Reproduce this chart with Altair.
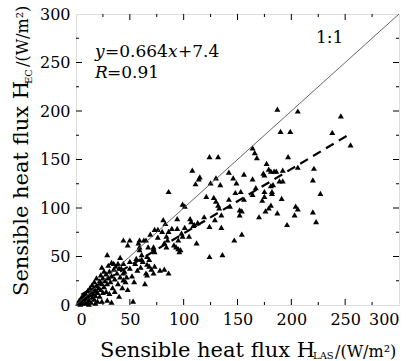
import altair as alt
import pandas as pd

F = "DejaVu Serif"

# ---- data ----
x_vals = [124,132,164,166,168,187,206,246,190,199,238,255,197,
          108,115,114,111,130,142,146,156,164,174,175,177,179,181,184,186,192,206,221,
          149,86,125,134,148,153,167,175,121,128,142,156,164,173,
          189,192,220,183,181,182,182,175,227,191,
          130,132,133,99,101,143,152,154,152,176,181,179,204,206,187,220,170,203,223,196,
          135,129,119,106,107,110,109,113,124,135,
          81,83,94,89,94,86,101,98,99,105,112,95,84,85,93,95,82,84,72,76,80,73,76,
          44,50,59,63,65,48,58,59,67,72,73,59,61,66,68,29,41,56,44,50,68,70,73,78,82,86,65,66,72,54,64,48,33,53,124,136,147,154,69,97,96,91,61,66,
          2,3,4,5,5,6,7,7,8,9,9,10,11,11,12,13,13,14,14,15,15,16,16,17,17,18,18,19,19,20,20,21,22,22,23,23,24,24,25,25,26,26,27,28,28,29,30,30,31,31,32,33,33,34,35,35,36,37,38,39,39,40,41,42,43,44,45,46,47,50,52,55,57,60,62,40,36,29,24,18,12,44]
y_vals = [153,153,162,157,152,202,200,195,179,179,178,165,153,
          139,132,130,125,131,137,131,135,130,136,134,146,140,138,138,138,139,142,141,
          126,117,126,124,116,117,121,117,112,111,109,109,114,108,
          128,128,129,124,123,117,115,112,115,110,
          107,103,100,104,102,102,98,97,93,97,103,100,102,99,95,96,91,93,86,83,
          93,88,91,89,86,83,82,85,81,80,
          88,84,89,79,79,76,80,74,71,71,64,67,71,67,60,58,64,60,60,70,76,78,78,
          67,67,67,67,67,62,64,60,60,58,55,57,52,50,47,52,49,48,43,45,40,37,40,36,37,33,33,31,33,24,22,16,3,4,50,52,67,73,73,57,55,62,47,42,
          2,5,1,4,8,2,6,10,3,12,7,2,9,15,5,11,18,3,14,8,21,12,17,6,24,15,10,20,28,13,4,18,25,9,31,16,22,39,13,28,35,19,25,32,14,22,41,28,12,35,24,44,30,18,37,43,27,40,33,22,43,38,29,38,18,33,35,24,29,38,30,43,36,39,45,9,14,5,4,2,1,26]

fit_x = [5, 255]
fit_y = [10.7, 176.7]
one_x = [0, 300]
one_y = [0, 300]
major_ticks = [50, 100, 150, 200, 250]
minor_ticks = [25, 75, 125, 175, 225, 275]
label_vals = [0, 50, 100, 150, 200, 250, 300]

W, H = 323, 291

pts = pd.DataFrame({"x": x_vals, "y": y_vals})
fit = pd.DataFrame({"x": fit_x, "y": fit_y})
one = pd.DataFrame({"x": one_x, "y": one_y})
dummy = pd.DataFrame({"a": [0]})

xs = alt.Scale(domain=[0, 300], nice=False, zero=False)
ys = alt.Scale(domain=[0, 300], nice=False, zero=False)

xaxis = alt.Axis(values=label_vals, tickSize=0, domain=False, grid=False, title=None,
                 labelFont=F, labelFontSize=16, labelColor="black", labelPadding=6, format="d")
yaxis = alt.Axis(values=label_vals, tickSize=0, domain=False, grid=False, title=None,
                 labelFont=F, labelFontSize=16, labelColor="black", labelPadding=6, format="d")

points = alt.Chart(pts).mark_point(shape="triangle-up", filled=True, color="black",
                                   size=36, opacity=1).encode(
    x=alt.X("x:Q", scale=xs, axis=xaxis),
    y=alt.Y("y:Q", scale=ys, axis=yaxis),
)

line11 = alt.Chart(one).mark_line(color="#555555", strokeWidth=0.9).encode(
    x=alt.X("x:Q", scale=xs, axis=xaxis), y=alt.Y("y:Q", scale=ys, axis=yaxis))
linefit = alt.Chart(fit).mark_line(color="black", strokeWidth=2.2, strokeDash=[9, 6]).encode(
    x=alt.X("x:Q", scale=xs, axis=xaxis), y=alt.Y("y:Q", scale=ys, axis=yaxis))

layers = [points, line11, linefit]

def xticks(vals, y0, y1):
    d = pd.DataFrame({"x": vals})
    return alt.Chart(d).mark_rule(color="black", strokeWidth=1).encode(
        x=alt.X("x:Q", scale=xs, axis=xaxis), y=alt.value(y0), y2=alt.value(y1))

def yticks(vals, x0, x1):
    d = pd.DataFrame({"y": vals})
    return alt.Chart(d).mark_rule(color="black", strokeWidth=1).encode(
        y=alt.Y("y:Q", scale=ys, axis=yaxis), x=alt.value(x0), x2=alt.value(x1))

layers += [
    xticks(major_ticks, H, H - 6), xticks(minor_ticks, H, H - 3),
    xticks(major_ticks, 0, 6), xticks(minor_ticks, 0, 3),
    yticks(major_ticks, 0, 6), yticks(minor_ticks, 0, 3),
    yticks(major_ticks, W, W - 6), yticks(minor_ticks, W, W - 3),
]

def txt(s, x, y, size, italic=False, angle=0, align="left", baseline="alphabetic"):
    return alt.Chart(dummy).mark_text(
        text=s, font=F, fontSize=size, fontStyle="italic" if italic else "normal",
        align=align, baseline=baseline, angle=angle, color="black"
    ).encode(x=alt.value(x), y=alt.value(y))

# annotations
layers += [
    txt("y", 19, 43, 17, italic=True),
    txt("=0.664", 29, 43, 17),
    txt("x", 92, 43, 17, italic=True),
    txt("+7.4", 102, 43, 17),
    txt("R", 19, 64, 17, italic=True),
    txt("=0.91", 31, 64, 17),
    txt("1:1", 240, 29, 17),
]

# x axis title
layers += [
    txt("Sensible heat flux H", 24, 343, 21),
    txt("LAS", 237, 345, 10),
    txt("/(W/m²)", 259, 343, 16),
]
# y axis title (rotated)
layers += [
    txt("Sensible heat flux H", -48, 282, 21, angle=270),
    txt("EC", -44, 70, 10, angle=270),
    txt("/(W/m²)", -48, 53, 16, angle=270),
]

chart = alt.layer(*layers).properties(
    width=W, height=H,
    autosize=alt.AutoSizeParams(type="none"),
    padding={"left": 76, "top": 14, "right": 18, "bottom": 56},
).configure_view(stroke="black", strokeWidth=1.3).configure(background="white")

chart.save("out.html", embed_options={"renderer": "svg", "actions": False})
